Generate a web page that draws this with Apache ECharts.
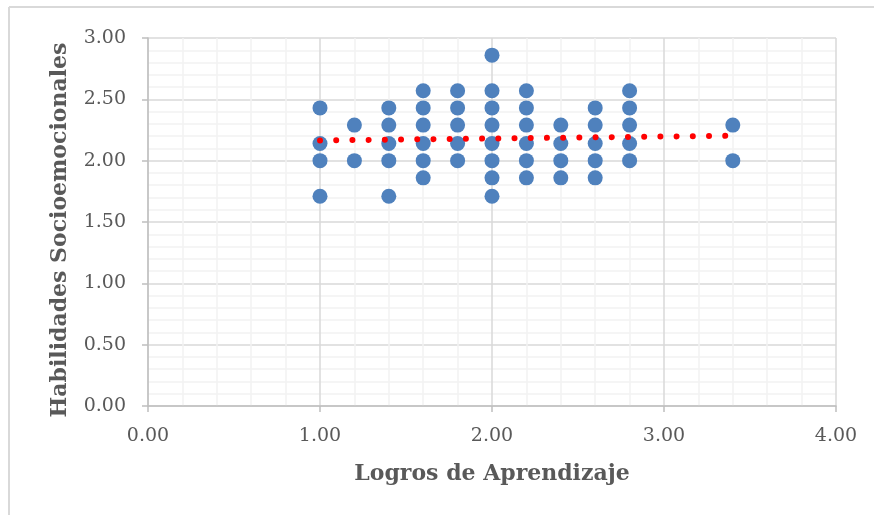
<!DOCTYPE html>
<html>
<head>
<meta charset="utf-8">
<script src="https://cdn.jsdelivr.net/npm/echarts@6/dist/echarts.min.js"></script>
<style>
  html, body { margin: 0; padding: 0; background: #fff; }
  #chart { width: 874px; height: 515px; }
</style>
</head>
<body>
<div id="chart"></div>
<script>
// x = Logros de Aprendizaje, y = Habilidades Socioemocionales
const xValues = [
  1.0, 1.0, 1.0, 1.0,
  1.2, 1.2,
  1.4, 1.4, 1.4, 1.4, 1.4,
  1.6, 1.6, 1.6, 1.6, 1.6, 1.6,
  1.8, 1.8, 1.8, 1.8, 1.8,
  2.0, 2.0, 2.0, 2.0, 2.0, 2.0, 2.0, 2.0,
  2.2, 2.2, 2.2, 2.2, 2.2, 2.2,
  2.4, 2.4, 2.4, 2.4,
  2.6, 2.6, 2.6, 2.6, 2.6,
  2.8, 2.8, 2.8, 2.8, 2.8,
  3.4, 3.4
]
const yValues = [
  2.43, 2.14, 2.00, 1.71,
  2.29, 2.00,
  2.43, 2.29, 2.14, 2.00, 1.71,
  2.57, 2.43, 2.29, 2.14, 2.00, 1.86,
  2.57, 2.43, 2.29, 2.14, 2.00,
  2.86, 2.57, 2.43, 2.29, 2.14, 2.00, 1.86, 1.71,
  2.57, 2.43, 2.29, 2.14, 2.00, 1.86,
  2.29, 2.14, 2.00, 1.86,
  2.43, 2.29, 2.14, 2.00, 1.86,
  2.57, 2.43, 2.29, 2.14, 2.00,
  2.29, 2.00
]
// linear trend line end points
const trendX = [1.0, 3.4]
const trendY = [2.165, 2.203]

const xTitle = 'Logros de Aprendizaje'
const yTitle = 'Habilidades Socioemocionales'

const serif = 'DejaVu Serif'
const textColor = '#595959'

const chart = echarts.init(document.getElementById('chart'))

const axisCommon = {
  axisLine: { show: true, onZero: false, lineStyle: { color: '#BFBFBF', width: 1.5 } },
  axisTick: { show: true, inside: false, length: 6, lineStyle: { color: '#BFBFBF', width: 1.5 } },
  splitLine: { show: true, lineStyle: { color: '#D9D9D9', width: 1.5 } },
  minorTick: { show: false, splitNumber: 5 },
  minorSplitLine: { show: true, lineStyle: { color: '#F2F2F2', width: 1.5 } },
}

const option = {
  animation: false,
  backgroundColor: '#fff',
  grid: { left: 148, right: 38, top: 38, bottom: 109, containLabel: false },
  xAxis: Object.assign({}, axisCommon, {
    type: 'value',
    min: 0,
    max: 4,
    interval: 1,
    name: xTitle,
    nameLocation: 'middle',
    nameGap: 57,
    nameTextStyle: { fontFamily: serif, fontWeight: 'bold', fontSize: 22, color: textColor },
    axisLabel: {
      margin: 21,
      fontFamily: serif,
      fontSize: 19,
      color: textColor,
      formatter: (v) => v.toFixed(2),
    },
  }),
  yAxis: Object.assign({}, axisCommon, {
    type: 'value',
    min: 0,
    max: 3,
    interval: 0.5,
    name: yTitle,
    nameLocation: 'middle',
    nameGap: 77,
    nameTextStyle: {
      fontFamily: serif, fontWeight: 'bold', fontSize: 22, color: textColor,
      padding: [0, 16, 0, 0],
    },
    axisLabel: {
      margin: 22,
      fontFamily: serif,
      fontSize: 19,
      color: textColor,
      formatter: (v) => v.toFixed(2),
    },
  }),
  series: [
    {
      type: 'scatter',
      symbol: 'circle',
      symbolSize: 15,
      itemStyle: { color: '#4F81BD', opacity: 1 },
      data: xValues.map((x, i) => [x, yValues[i]]),
      z: 2,
    },
    {
      type: 'line',
      showSymbol: false,
      symbol: 'none',
      data: trendX.map((x, i) => [x, trendY[i]]),
      lineStyle: { color: '#FF0000', width: 6, type: [0.01, 16.2], cap: 'round' },
      z: 3,
    },
  ],
  graphic: [
    // outer chart frame (only top and left edges are visible)
    { type: 'line', shape: { x1: 9, y1: 7, x2: 874, y2: 7 }, style: { stroke: '#D9D9D9', lineWidth: 2 }, silent: true },
    { type: 'line', shape: { x1: 9, y1: 7, x2: 9, y2: 515 }, style: { stroke: '#D9D9D9', lineWidth: 2 }, silent: true },
  ],
}

chart.setOption(option)
</script>
</body>
</html>
